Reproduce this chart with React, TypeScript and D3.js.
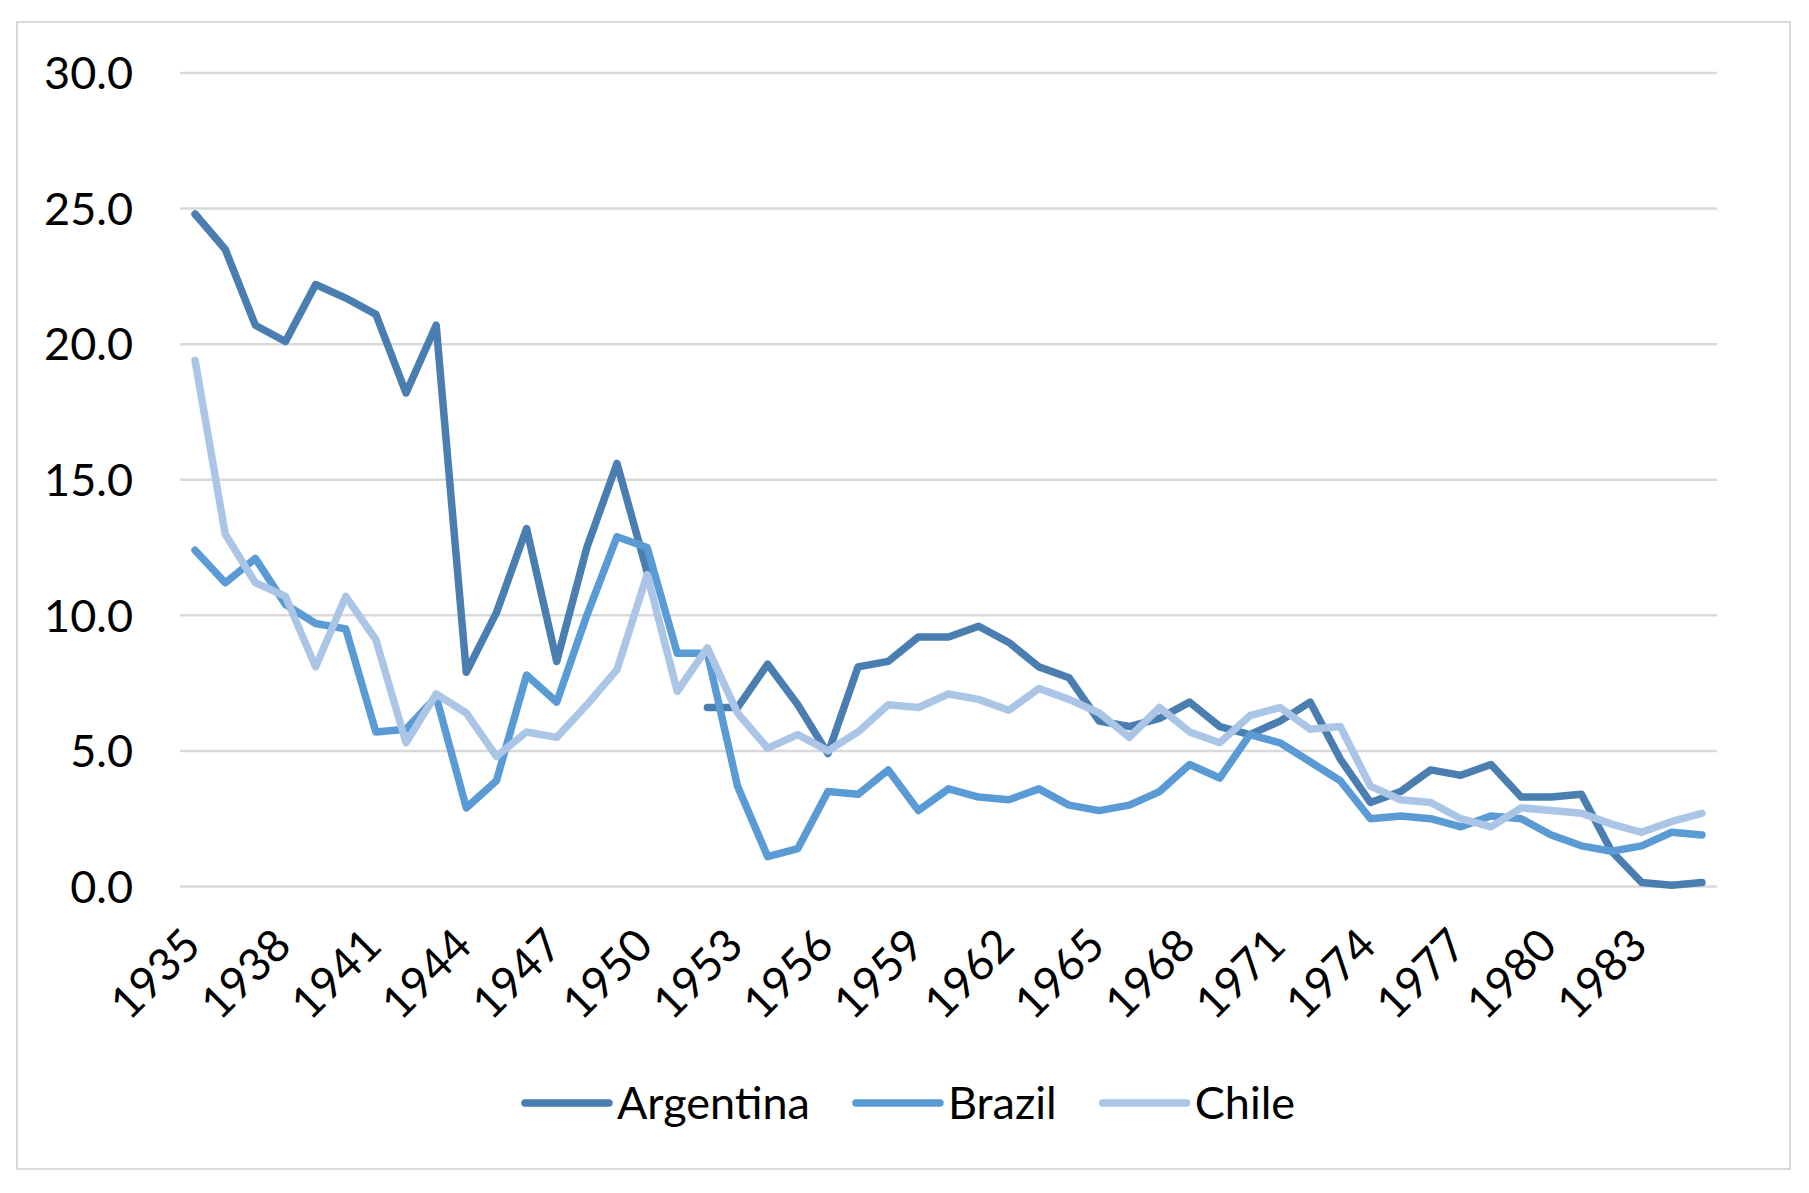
import React, { useEffect, useRef } from 'react';
import * as d3 from 'd3';

const years = [
  1935, 1936, 1937, 1938, 1939, 1940, 1941, 1942, 1943, 1944,
  1945, 1946, 1947, 1948, 1949, 1950, 1951, 1952, 1953, 1954,
  1955, 1956, 1957, 1958, 1959, 1960, 1961, 1962, 1963, 1964,
  1965, 1966, 1967, 1968, 1969, 1970, 1971, 1972, 1973, 1974,
  1975, 1976, 1977, 1978, 1979, 1980, 1981, 1982, 1983, 1984, 1985,
];

const argentina: (number | null)[] = [
  24.8, 23.5, 20.7, 20.1, 22.2, 21.7, 21.1, 18.2, 20.7, 7.9,
  10.1, 13.2, 8.3, 12.5, 15.6, 11.6, null, 6.6, 6.6, 8.2,
  6.7, 4.9, 8.1, 8.3, 9.2, 9.2, 9.6, 9.0, 8.1, 7.7,
  6.1, 5.9, 6.2, 6.8, 5.9, 5.6, 6.1, 6.8, 4.7, 3.1,
  3.5, 4.3, 4.1, 4.5, 3.3, 3.3, 3.4, 1.3, 0.15, 0.05, 0.15,
];

const brazil: (number | null)[] = [
  12.4, 11.2, 12.1, 10.4, 9.7, 9.5, 5.7, 5.8, 7.0, 2.9,
  3.9, 7.8, 6.8, 10.0, 12.9, 12.5, 8.6, 8.6, 3.7, 1.1,
  1.4, 3.5, 3.4, 4.3, 2.8, 3.6, 3.3, 3.2, 3.6, 3.0,
  2.8, 3.0, 3.5, 4.5, 4.0, 5.6, 5.3, 4.6, 3.9, 2.5,
  2.6, 2.5, 2.2, 2.6, 2.5, 1.9, 1.5, 1.3, 1.5, 2.0, 1.9,
];

const chile: (number | null)[] = [
  19.4, 13.0, 11.2, 10.7, 8.1, 10.7, 9.1, 5.3, 7.1, 6.4,
  4.8, 5.7, 5.5, 6.7, 8.0, 11.5, 7.2, 8.8, 6.4, 5.1,
  5.6, 5.0, 5.7, 6.7, 6.6, 7.1, 6.9, 6.5, 7.3, 6.9,
  6.4, 5.5, 6.6, 5.7, 5.3, 6.3, 6.6, 5.8, 5.9, 3.7,
  3.2, 3.1, 2.5, 2.2, 2.9, 2.8, 2.7, 2.3, 2.0, 2.4, 2.7,
];

const yTicks = [0, 5, 10, 15, 20, 25, 30];
const xTickYears = [1935, 1938, 1941, 1944, 1947, 1950, 1953, 1956, 1959, 1962, 1965, 1968, 1971, 1974, 1977, 1980, 1983];

const series = [
  { name: 'Argentina', values: argentina, color: '#4a7eb1' },
  { name: 'Brazil', values: brazil, color: '#5b9bd5' },
  { name: 'Chile', values: chile, color: '#abc5e6' },
];

const WIDTH = 1809;
const HEIGHT = 1193;
const FONT = 'Lato, "Open Sans", sans-serif';
const FONT_SIZE = '45px';

export default function App() {
  const svgRef = useRef<SVGSVGElement>(null);

  useEffect(() => {
    if (!svgRef.current) return;
    const svg = d3.select(svgRef.current);
    svg.selectAll('*').remove();

    const plot = { left: 180, right: 1717, top: 73, bottom: 886.5 };

    const x = d3
      .scalePoint<number>()
      .domain(years)
      .range([plot.left, plot.right])
      .padding(0.5);

    const y = d3.scaleLinear().domain([0, 30]).range([plot.bottom, plot.top]);

    // chart border
    svg
      .append('rect')
      .attr('x', 17)
      .attr('y', 22)
      .attr('width', 1773)
      .attr('height', 1147)
      .attr('fill', '#fff')
      .attr('stroke', '#d9d9d9')
      .attr('stroke-width', 2);

    // gridlines
    svg
      .append('g')
      .selectAll('line')
      .data(yTicks)
      .enter()
      .append('line')
      .attr('x1', plot.left)
      .attr('x2', plot.right)
      .attr('y1', d => y(d))
      .attr('y2', d => y(d))
      .attr('stroke', '#d9d9d9')
      .attr('stroke-width', 2.5);

    // y labels
    svg
      .append('g')
      .selectAll('text')
      .data(yTicks)
      .enter()
      .append('text')
      .attr('x', 133)
      .attr('y', d => y(d))
      .attr('dy', '0.36em')
      .attr('text-anchor', 'end')
      .style('font-family', FONT)
      .style('font-size', FONT_SIZE)
      .attr('fill', '#000')
      .text(d => d3.format('.1f')(d));

    // x labels, rotated
    svg
      .append('g')
      .selectAll('text')
      .data(xTickYears)
      .enter()
      .append('text')
      .attr('transform', d => `translate(${(x(d) || 0) + 8},948) rotate(-45)`)
      .attr('text-anchor', 'end')
      .style('font-family', FONT)
      .style('font-size', FONT_SIZE)
      .attr('fill', '#000')
      .text(d => String(d));

    // lines
    const line = d3
      .line<number | null>()
      .defined(d => d !== null)
      .x((_, i) => x(years[i]) || 0)
      .y(d => y(d as number));

    series.forEach(s => {
      svg
        .append('path')
        .datum(s.values)
        .attr('d', line)
        .attr('fill', 'none')
        .attr('stroke', s.color)
        .attr('stroke-width', 7.5)
        .attr('stroke-linejoin', 'round')
        .attr('stroke-linecap', 'round');
    });

    // legend
    const legend = svg.append('g');
    const legendY = 1103;
    const swatch = 84;
    const items = series.map(s => {
      const g = legend.append('g');
      g.append('line')
        .attr('x1', 0)
        .attr('x2', swatch)
        .attr('y1', legendY)
        .attr('y2', legendY)
        .attr('stroke', s.color)
        .attr('stroke-width', 7.5)
        .attr('stroke-linecap', 'round');
      const t = g
        .append('text')
        .attr('x', swatch + 8)
        .attr('y', legendY)
        .attr('dy', '0.36em')
        .style('font-family', FONT)
        .style('font-size', FONT_SIZE)
        .attr('fill', '#000')
        .text(s.name);
      const w = (t.node() as SVGTextElement).getComputedTextLength();
      return { g, w: swatch + 8 + w };
    });
    const gap = 46;
    const total = d3.sum(items, d => d.w) + gap * (items.length - 1);
    let cx = 910 - total / 2;
    items.forEach(it => {
      it.g.attr('transform', `translate(${cx},0)`);
      cx += it.w + gap;
    });
  }, []);

  return (
    <svg
      ref={svgRef}
      width={WIDTH}
      height={HEIGHT}
      style={{ position: 'absolute', left: 0, top: 0, background: '#fff' }}
    ></svg>
  );
}
